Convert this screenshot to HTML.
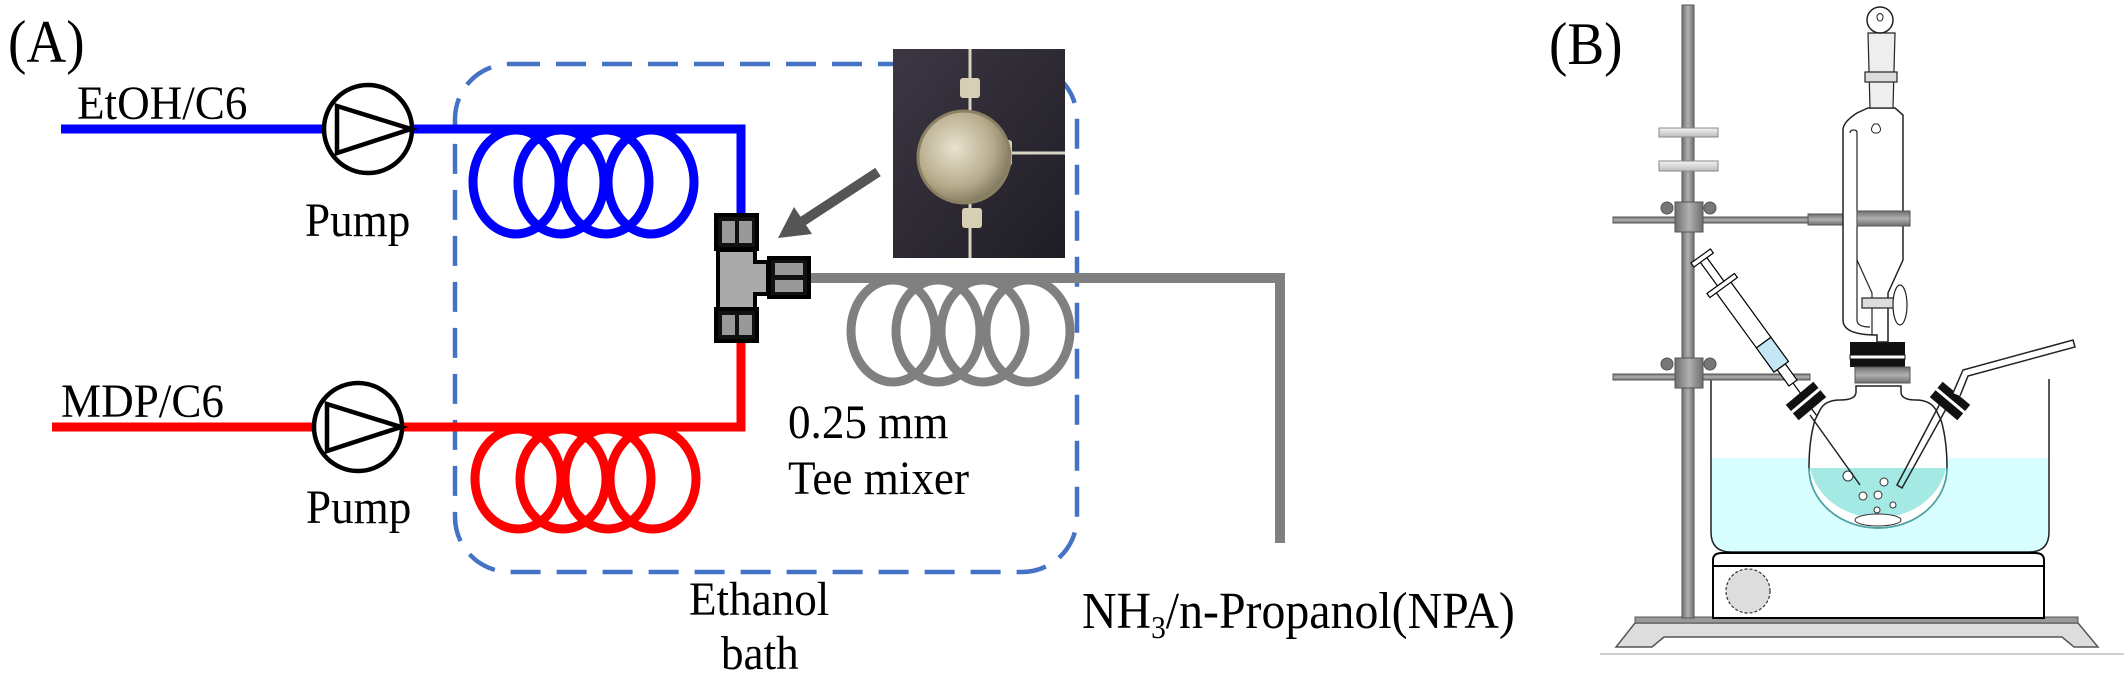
<!DOCTYPE html>
<html><head><meta charset="utf-8"><style>
html,body{margin:0;padding:0;background:#fff;}
svg{display:block;}
text{font-family:"Liberation Serif",serif;fill:#000;}
</style></head><body>
<svg width="2128" height="677" viewBox="0 0 2128 677" xmlns="http://www.w3.org/2000/svg">
<defs>
<linearGradient id="rodg" x1="0" x2="1" y1="0" y2="0"><stop offset="0" stop-color="#6f6f6f"/><stop offset="0.5" stop-color="#b0b0b0"/><stop offset="1" stop-color="#6f6f6f"/></linearGradient>
<linearGradient id="armg" x1="0" x2="0" y1="0" y2="1"><stop offset="0" stop-color="#6f6f6f"/><stop offset="0.5" stop-color="#b0b0b0"/><stop offset="1" stop-color="#6f6f6f"/></linearGradient>
<linearGradient id="clipg" x1="0" x2="0" y1="0" y2="1"><stop offset="0" stop-color="#f4f4f4"/><stop offset="1" stop-color="#bdbdbd"/></linearGradient>
<radialGradient id="silver" cx="0.4" cy="0.4" r="0.7"><stop offset="0" stop-color="#e8e2cf"/><stop offset="0.6" stop-color="#b7ab8c"/><stop offset="1" stop-color="#6e6650"/></radialGradient>
<linearGradient id="photobg" x1="0" x2="1" y1="0" y2="1"><stop offset="0" stop-color="#3c3744"/><stop offset="1" stop-color="#1f1d24"/></linearGradient>
</defs>

<!-- PANEL A -->
<text transform="translate(8,62) scale(0.92,1)" font-size="60">(A)</text>

<rect x="455" y="64" width="622" height="508" rx="55" ry="55" fill="none" stroke="#4472c4" stroke-width="4.5" stroke-dasharray="30 16"/>

<text transform="translate(77,119) scale(0.94,1)" font-size="48">EtOH/C6</text>
<polyline points="61,129 325,129" fill="none" stroke="#0000ff" stroke-width="9"/>
<polyline points="410,129 741,129 741,216" fill="none" stroke="#0000ff" stroke-width="9"/>
<g fill="none" stroke="#0000ff" stroke-width="9">
<ellipse cx="516" cy="182" rx="43" ry="52"/>
<ellipse cx="561" cy="182" rx="43" ry="52"/>
<ellipse cx="606" cy="182" rx="43" ry="52"/>
<ellipse cx="651" cy="182" rx="43" ry="52"/>
</g>
<circle cx="368" cy="129" r="44" fill="#fff" stroke="#000" stroke-width="4.5"/>
<polygon points="337,106 337,153 411,129" fill="none" stroke="#000" stroke-width="4.5"/>
<text transform="translate(305,236) scale(0.94,1)" font-size="48">Pump</text>

<text transform="translate(61,417) scale(0.94,1)" font-size="48">MDP/C6</text>
<polyline points="52,427 315,427" fill="none" stroke="#ff0000" stroke-width="9"/>
<polyline points="400,427 741,427 741,338" fill="none" stroke="#ff0000" stroke-width="9"/>
<g fill="none" stroke="#ff0000" stroke-width="9">
<ellipse cx="518" cy="479" rx="43" ry="50"/>
<ellipse cx="563" cy="479" rx="43" ry="50"/>
<ellipse cx="608" cy="479" rx="43" ry="50"/>
<ellipse cx="653" cy="479" rx="43" ry="50"/>
</g>
<circle cx="358" cy="427" r="44" fill="#fff" stroke="#000" stroke-width="4.5"/>
<polygon points="327,404 327,451 401,427" fill="none" stroke="#000" stroke-width="4.5"/>
<text transform="translate(306,523) scale(0.94,1)" font-size="48">Pump</text>

<polyline points="805,278 1280,278 1280,543" fill="none" stroke="#808080" stroke-width="10"/>
<g fill="none" stroke="#808080" stroke-width="9">
<ellipse cx="893" cy="331" rx="42" ry="51"/>
<ellipse cx="938" cy="331" rx="42" ry="51"/>
<ellipse cx="983" cy="331" rx="42" ry="51"/>
<ellipse cx="1028" cy="331" rx="42" ry="51"/>
</g>

<g stroke="#000" stroke-width="4">
<rect x="716" y="215" width="41" height="34" fill="#111"/>
<rect x="722" y="221" width="13" height="22" fill="#999" stroke="none"/>
<rect x="739" y="221" width="13" height="22" fill="#999" stroke="none"/>
<path d="M718 250 H755 V262 H768 V294 H755 V309 H718 Z" fill="#aaa"/>
<rect x="769" y="258" width="40" height="39" fill="#111"/>
<rect x="775" y="263" width="28" height="12" fill="#999" stroke="none"/>
<rect x="775" y="280" width="28" height="12" fill="#999" stroke="none"/>
<rect x="716" y="309" width="41" height="32" fill="#111"/>
<rect x="722" y="315" width="13" height="20" fill="#999" stroke="none"/>
<rect x="739" y="315" width="13" height="20" fill="#999" stroke="none"/>
</g>

<rect x="893" y="49" width="172" height="209" fill="url(#photobg)"/>
<line x1="970" y1="49" x2="970" y2="258" stroke="#d8d4c4" stroke-width="3"/>
<line x1="1010" y1="153" x2="1065" y2="153" stroke="#d8d4c4" stroke-width="3"/>
<rect x="960" y="78" width="20" height="20" rx="3" fill="#d7cfb4"/>
<rect x="962" y="208" width="20" height="20" rx="3" fill="#d7cfb4"/>
<rect x="1000" y="140" width="12" height="26" rx="3" fill="#d7cfb4"/>
<circle cx="964" cy="157" r="46" fill="url(#silver)" stroke="#8b8061" stroke-width="3"/>

<line x1="878" y1="172" x2="800" y2="223" stroke="#555" stroke-width="10"/>
<polygon points="778,238 812,234 794,207" fill="#555"/>

<text transform="translate(788,438) scale(0.94,1)" font-size="48">0.25 mm</text>
<text transform="translate(788,494) scale(0.94,1)" font-size="48">Tee mixer</text>
<text transform="translate(689,615) scale(0.94,1)" font-size="48">Ethanol</text>
<text transform="translate(721,669) scale(0.94,1)" font-size="48">bath</text>
<text transform="translate(1082,628) scale(0.92,1)" font-size="52">NH<tspan font-size="32" dy="10">3</tspan><tspan dy="-10">/n-Propanol(NPA)</tspan></text>

<!-- PANEL B -->
<text transform="translate(1549,64) scale(0.92,1)" font-size="60">(B)</text>

<line x1="1600" y1="654" x2="2124" y2="654" stroke="#cfcfcf" stroke-width="2"/>
<path d="M1635 623 L1616 647 L1652 647 L1664 637 L2062 637 L2074 647 L2098 647 L2078 623 Z" fill="#ddd" stroke="#555" stroke-width="1.5"/>
<rect x="1635" y="617" width="443" height="6" fill="#999" stroke="#555" stroke-width="1"/>

<path d="M1711 458 H2049 V532 Q2049 552 2029 552 H1731 Q1711 552 1711 532 Z" fill="#d8feff"/>
<path d="M1711 379 V532 Q1711 552 1731 552 H2029 Q2049 552 2049 532 V379" fill="none" stroke="#222" stroke-width="1.5"/>

<path d="M1713 566 V560 Q1713 553 1722 553 H2035 Q2044 553 2044 560 V566 Z" fill="#fff" stroke="#000" stroke-width="2"/>
<rect x="1713" y="566" width="331" height="52" fill="#fff" stroke="#000" stroke-width="2"/>
<circle cx="1748" cy="591" r="22" fill="#ddd" stroke="#333" stroke-width="1.2" stroke-dasharray="3 2"/>

<rect x="1682" y="5" width="12" height="613" fill="url(#rodg)" stroke="#555" stroke-width="1"/>
<rect x="1659" y="128" width="59" height="9" fill="url(#clipg)" stroke="#888" stroke-width="1"/>
<rect x="1659" y="161" width="59" height="10" fill="url(#clipg)" stroke="#888" stroke-width="1"/>

<g stroke="#555" stroke-width="1">
<rect x="1613" y="217" width="197" height="6" fill="url(#armg)"/>
<rect x="1808" y="214" width="50" height="11" fill="url(#armg)"/>
<rect x="1675" y="202" width="28" height="30" fill="url(#rodg)"/>
<circle cx="1667" cy="208" r="6" fill="#777"/>
<circle cx="1710" cy="208" r="6" fill="#777"/>
<rect x="1613" y="374" width="197" height="6" fill="url(#armg)"/>
<rect x="1675" y="358" width="28" height="30" fill="url(#rodg)"/>
<circle cx="1667" cy="364" r="6" fill="#777"/>
<circle cx="1710" cy="364" r="6" fill="#777"/>
</g>

<g transform="translate(1793,383) rotate(-126)">
<rect x="0" y="-5" width="20" height="10" fill="#fff" stroke="#000" stroke-width="1.2"/>
<rect x="20" y="-9" width="30" height="18" fill="#c4e6f5" stroke="#000" stroke-width="1.2"/>
<rect x="50" y="-9" width="70" height="18" fill="#fff" stroke="#000" stroke-width="1.2"/>
<rect x="118" y="-17" width="5" height="34" fill="#fff" stroke="#000" stroke-width="1.2"/>
<rect x="123" y="-4" width="30" height="8" fill="#fff" stroke="#000" stroke-width="1.2"/>
<rect x="152" y="-12" width="5" height="24" fill="#fff" stroke="#000" stroke-width="1.2"/>
<line x1="-40" y1="0" x2="0" y2="0" stroke="#000" stroke-width="1.2"/>
</g>

<path d="M1856 386 V392 Q1856 400 1840 400 Q1825 400 1820 410 L1815 420 Q1809 440 1809 468 A69 60 0 0 0 1947 468 Q1947 440 1941 420 L1936 410 Q1930 400 1916 400 Q1901 400 1901 392 V386 Z" fill="#fff" stroke="#222" stroke-width="1.5"/>
<path d="M1810 468 A69 60 0 0 0 1946 468 Z" fill="#a4e9e4"/>
<path d="M1809 468 A69 60 0 0 0 1947 468" fill="none" stroke="#4aa" stroke-width="1.5"/>
<ellipse cx="1878" cy="520" rx="23" ry="6" fill="#fff" stroke="#333" stroke-width="1"/>
<g fill="#fff" stroke="#333" stroke-width="1">
<circle cx="1848" cy="476" r="5"/><circle cx="1884" cy="482" r="4"/><circle cx="1863" cy="496" r="4"/>
<circle cx="1878" cy="495" r="4"/><circle cx="1893" cy="505" r="3"/><circle cx="1877" cy="510" r="3"/>
</g>
<line x1="1810" y1="415" x2="1860" y2="485" stroke="#222" stroke-width="1.5"/>
<path d="M1951 400 L1902 488 L1897 485 L1944 396" fill="none" stroke="#222" stroke-width="1.5"/>
<g transform="translate(1806,401) rotate(-40)"><rect x="-18" y="-10" width="36" height="20" fill="#111"/><rect x="-18" y="-2" width="36" height="3" fill="#fff"/></g>
<g transform="translate(1950,401) rotate(40)"><rect x="-18" y="-10" width="36" height="20" fill="#111"/><rect x="-18" y="-2" width="36" height="3" fill="#fff"/></g>
<path d="M1953 393 L1963 370 L2073 340 L2075 347 L1968 376 L1960 396" fill="#fff" stroke="#222" stroke-width="1.5"/>

<rect x="1850" y="342" width="55" height="25" fill="#111"/>
<rect x="1850" y="355" width="55" height="4" fill="#fff" stroke="#111" stroke-width="1"/>
<rect x="1855" y="367" width="55" height="16" fill="url(#armg)" stroke="#555" stroke-width="1"/>

<path d="M1843 130 Q1843 122 1857 113 L1868 108 H1895 L1903 115 V260 L1888 293 V342 H1877 V335 Q1843 335 1843 320 Z" fill="#fff" stroke="#222" stroke-width="1.5"/>
<path d="M1850 133 Q1850 130 1854 130 Q1857 130 1857 133 V320 Q1857 327 1870 327" fill="none" stroke="#222" stroke-width="1.2"/>
<path d="M1857 260 L1872 293 V335" fill="none" stroke="#222" stroke-width="1.2"/>
<rect x="1857" y="211" width="53" height="15" fill="url(#armg)" stroke="#555" stroke-width="1"/>
<rect x="1862" y="298" width="36" height="10" fill="#ddd" stroke="#222" stroke-width="1.2"/>
<ellipse cx="1900" cy="305" rx="7" ry="20" fill="#fff" stroke="#222" stroke-width="1.2"/>
<path d="M1874 124 q-5 6 0 9 h4 q5 -3 0 -9 z" fill="#fff" stroke="#222" stroke-width="1"/>
<path d="M1868 33 H1895 L1893 108 H1870 Z" fill="#eee" stroke="#222" stroke-width="1.2"/>
<rect x="1865" y="72" width="32" height="10" fill="#ddd" stroke="#222" stroke-width="1.2"/>
<circle cx="1880" cy="20" r="13" fill="#fff" stroke="#222" stroke-width="1.5"/>
<path d="M1877 16 q3 -5 6 0 q0 5 -3 5 q-3 0 -3 -5z" fill="#fff" stroke="#222" stroke-width="1"/>
</svg>
</body></html>
